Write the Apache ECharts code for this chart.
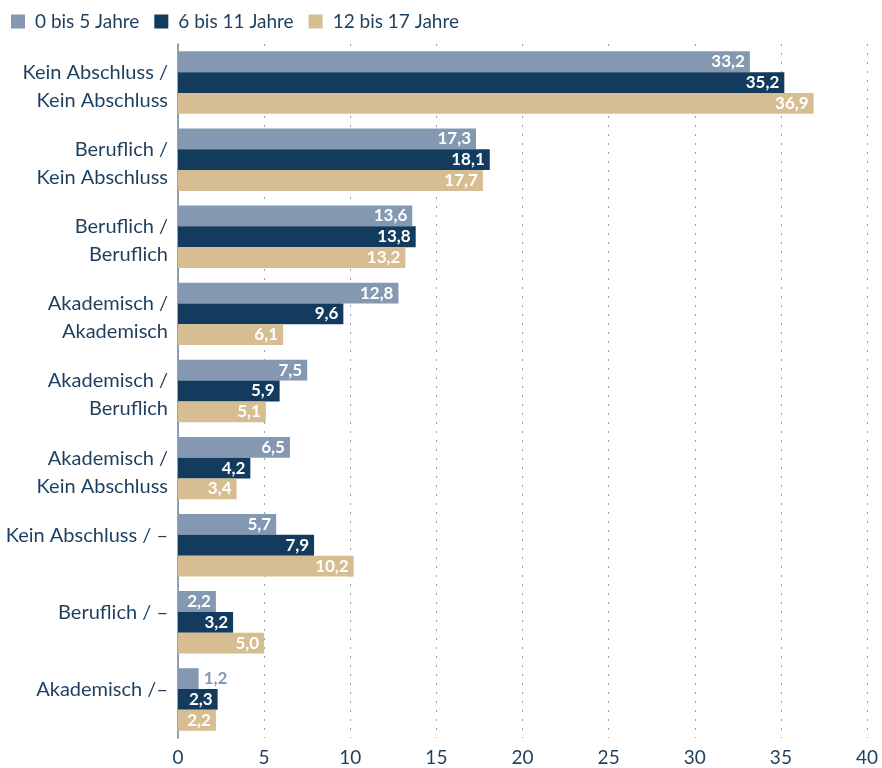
<!DOCTYPE html>
<html>
<head>
<meta charset="utf-8">
<script src="https://cdn.jsdelivr.net/npm/echarts@6/dist/echarts.min.js"></script>
<style>
  html, body { margin: 0; padding: 0; background: #fff; }
  #chart { width: 882px; height: 768px; }
</style>
</head>
<body>
<div id="chart"></div>
<script>
let categories = [
    'Kein Abschluss /\nKein Abschluss',
    'Beruflich /\nKein Abschluss',
    'Beruflich /\nBeruflich',
    'Akademisch /\nAkademisch',
    'Akademisch /\nBeruflich',
    'Akademisch /\nKein Abschluss',
    'Kein Abschluss / –',
    'Beruflich / –',
    'Akademisch /–'
];
let series_names = ['0 bis 5 Jahre', '6 bis 11 Jahre', '12 bis 17 Jahre'];
let age_0_5 = [33.2, 17.3, 13.6, 12.8, 7.5, 6.5, 5.7, 2.2, 1.2];
let age_6_11 = [35.2, 18.1, 13.8, 9.6, 5.9, 4.2, 7.9, 3.2, 2.3];
let age_12_17 = [36.9, 17.7, 13.2, 6.1, 5.1, 3.4, 10.2, 5.0, 2.2];
let x_ticks = [0, 5, 10, 15, 20, 25, 30, 35, 40];

let colors = ['#8499b1', '#123b5d', '#d7bd92'];
let text_color = '#1d3f5f';
let font = '"Source Sans Pro", Lato, "Noto Sans", sans-serif';

function fmt(v) {
    return v.toFixed(1).replace('.', ',');
}

// small bars get their label outside, in the bar colour
function buildData(values, color) {
    return values.map(function (v) {
        if (v < 2) {
            return {value: v, label: {position: 'right', color: color}};
        }
        return v;
    });
}

let my_chart = echarts.init(document.getElementById('chart'));

let series_data = [age_0_5, age_6_11, age_12_17].map(function (vals, i) {
    return {
        name: series_names[i],
        type: 'bar',
        barGap: '0%',
        barCategoryGap: '19%',
        itemStyle: {color: colors[i]},
        label: {
            show: true,
            position: 'insideRight',
            distance: 5,
            color: '#fff',
            fontWeight: 'bold',
            fontSize: 17,
            fontFamily: font,
            formatter: function (p) { return fmt(p.value); }
        },
        data: buildData(vals, colors[i])
    };
});

let option = {
    animation: false,
    legend: {
        left: 6,
        top: 7,
        icon: 'rect',
        itemWidth: 14,
        itemHeight: 14,
        itemGap: 15,
        data: series_names,
        textStyle: {color: text_color, fontSize: 19, fontFamily: font, padding: [0, 0, 0, 5]}
    },
    grid: {
        left: 178,
        right: 15,
        top: 44,
        bottom: 30,
        containLabel: false
    },
    xAxis: {
        type: 'value',
        min: x_ticks[0],
        max: x_ticks[x_ticks.length - 1],
        interval: 5,
        axisLine: {show: false},
        axisTick: {show: false},
        axisLabel: {
            color: text_color,
            fontSize: 19,
            fontFamily: font,
            margin: 10
        },
        splitLine: {
            show: true,
            lineStyle: {color: '#8ea3bb', type: [2, 7], width: 1}
        }
    },
    yAxis: {
        type: 'category',
        inverse: true,
        data: categories,
        axisLine: {show: true, lineStyle: {color: '#6f8399', width: 1.5}},
        axisTick: {show: false},
        axisLabel: {
            color: text_color,
            fontSize: 20,
            fontFamily: font,
            lineHeight: 28,
            margin: 10,
            align: 'right',
            // a thin spacer line on top pushes the text down a little;
            // one-line labels sit on the first line, like the two-line ones
            formatter: function (v) {
                let txt = v.indexOf('\n') < 0 ? v + '\n ' : v;
                return '{s| }\n' + txt;
            },
            rich: {
                s: {fontSize: 4, lineHeight: 8}
            }
        }
    },
    series: series_data
};

my_chart.setOption(option);
</script>
</body>
</html>
